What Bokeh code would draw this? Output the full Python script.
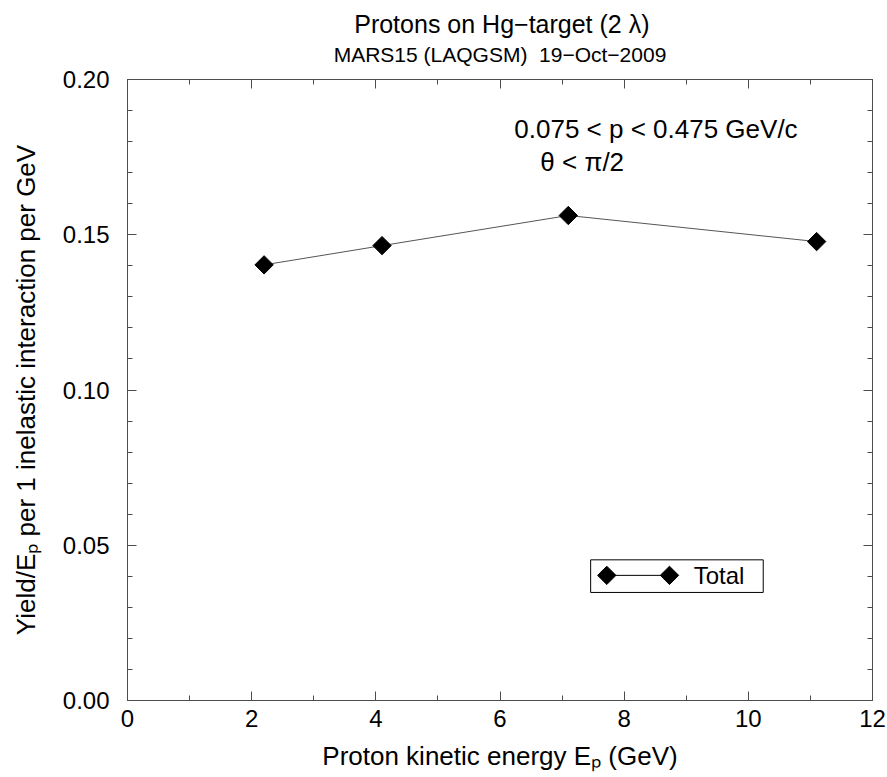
from bokeh.plotting import figure
from bokeh.layouts import column
from bokeh.models import (FixedTicker, LinearAxis, CustomJSTickFormatter, PrintfTickFormatter,
                          Range1d, Label, ColumnDataSource)
from bokeh.embed import file_html
from bokeh.resources import INLINE
import math

# ---- data ----
energy_gev = [2.2, 4.1, 7.1, 11.1]
yield_total = [0.1403, 0.1465, 0.1562, 0.1478]
x_ticks = [0, 2, 4, 6, 8, 10, 12]
x_minor = [1, 3, 5, 7, 9, 11]
y_ticks = [0.0, 0.05, 0.10, 0.15, 0.20]
y_minor = [round(0.01 * i, 2) for i in range(21) if i % 5 != 0]
series_name = "Total"
title_main = "Protons on Hg\u2212target (2 \u03bb)"
title_sub = "MARS15 (LAQGSM)\u00a0\u00a019\u2212Oct\u22122009"
note_line1 = "0.075 < p < 0.475 GeV/c"
note_line2 = "\u03b8 < \u03c0/2"
x_label = "Proton kinetic energy E\u209a (GeV)"
y_label = "Yield/E\u209a per 1 inelastic interaction per GeV"

FONT = "Liberation Sans"
AX = "#4d4d4d"
TITLE_H = 66

# ---- title strip (same x range as the plot; y in pixels from the top) ----
t = figure(width=887, height=TITLE_H, x_range=Range1d(0, 12), y_range=Range1d(TITLE_H, 0),
           min_border_left=0, min_border_right=0, min_border_top=0, min_border_bottom=0,
           output_backend="svg", toolbar_location=None, title=None,
           x_axis_location=None, y_axis_location=None)
t.grid.visible = False
t.outline_line_color = None
t.add_layout(Label(x=6.03, y=23, text=title_main, text_font=FONT, text_font_size="25px",
                   text_color="black", text_align="center", text_baseline="middle"))
t.add_layout(Label(x=6.0, y=54, text=title_sub, text_font=FONT, text_font_size="21px",
                   text_color="black", text_align="center", text_baseline="middle"))

# ---- main plot ----
p = figure(frame_width=745, frame_height=621,
           min_border_left=127, min_border_right=15, min_border_top=79 - TITLE_H,
           min_border_bottom=77,
           x_range=Range1d(0, 12), y_range=Range1d(0, 0.20),
           output_backend="svg", toolbar_location=None, title=None,
           x_axis_location=None, y_axis_location=None)
p.grid.visible = False
p.outline_line_color = AX
p.background_fill_color = "white"
p.border_fill_color = "white"

def style_axis(ax, ticks, minor, fmt, labelled):
    ax.ticker = FixedTicker(ticks=ticks, minor_ticks=minor)
    ax.axis_line_color = AX
    ax.major_tick_line_color = AX
    ax.minor_tick_line_color = AX
    ax.major_tick_in = 9
    ax.major_tick_out = 0
    ax.minor_tick_in = 5
    ax.minor_tick_out = 0
    if labelled:
        ax.formatter = fmt
        ax.major_label_text_font = FONT
        ax.major_label_text_font_size = "24px"
        ax.major_label_text_color = "black"
        ax.axis_label_text_font = FONT
        ax.axis_label_text_font_size = "26px"
        ax.axis_label_text_font_style = "normal"
        ax.axis_label_text_color = "black"
    else:
        ax.formatter = CustomJSTickFormatter(code="return ''")
        ax.major_label_standoff = 0

xb = LinearAxis(axis_label=x_label)
style_axis(xb, x_ticks, x_minor, PrintfTickFormatter(format="%d"), True)
xb.major_label_standoff = 9
xb.axis_label_standoff = 11
p.add_layout(xb, "below")

yl = LinearAxis(axis_label=y_label)
style_axis(yl, y_ticks, y_minor, PrintfTickFormatter(format="%.2f"), True)
yl.major_label_standoff = 18
yl.axis_label_standoff = 19
p.add_layout(yl, "left")

xt = LinearAxis()
style_axis(xt, x_ticks, x_minor, None, False)
p.add_layout(xt, "above")
yr = LinearAxis()
style_axis(yr, y_ticks, y_minor, None, False)
p.add_layout(yr, "right")

src = ColumnDataSource(dict(x=energy_gev, y=yield_total))
p.line("x", "y", source=src, line_color="#555555", line_width=1)
p.scatter("x", "y", source=src, marker="square", size=13, angle=math.pi / 4,
          fill_color="black", line_color="black")

# annotation
p.add_layout(Label(x=6.23, y=0.1842, text=note_line1, text_font=FONT, text_font_size="26px",
                   text_baseline="middle", text_align="left", text_color="black"))
p.add_layout(Label(x=6.65, y=0.1733, text=note_line2, text_font=FONT, text_font_size="26px",
                   text_baseline="middle", text_align="left", text_color="black"))

# legend box (drawn manually to show the marker at both ends)
p.quad(left=[7.46], right=[10.24], bottom=[0.0348], top=[0.0453],
       fill_color="white", line_color="black", line_width=1)
p.line([7.72, 8.73], [0.0403, 0.0403], line_color="black", line_width=1)
p.scatter([7.72, 8.73], [0.0403, 0.0403], marker="square", size=13, angle=math.pi / 4,
          fill_color="black", line_color="black")
p.add_layout(Label(x=9.12, y=0.0403, text=series_name, text_font=FONT, text_font_size="24px",
                   text_baseline="middle", text_align="left", text_color="black"))

layout = column(t, p, spacing=0)
open("out.html", "w").write(file_html(layout, INLINE))
